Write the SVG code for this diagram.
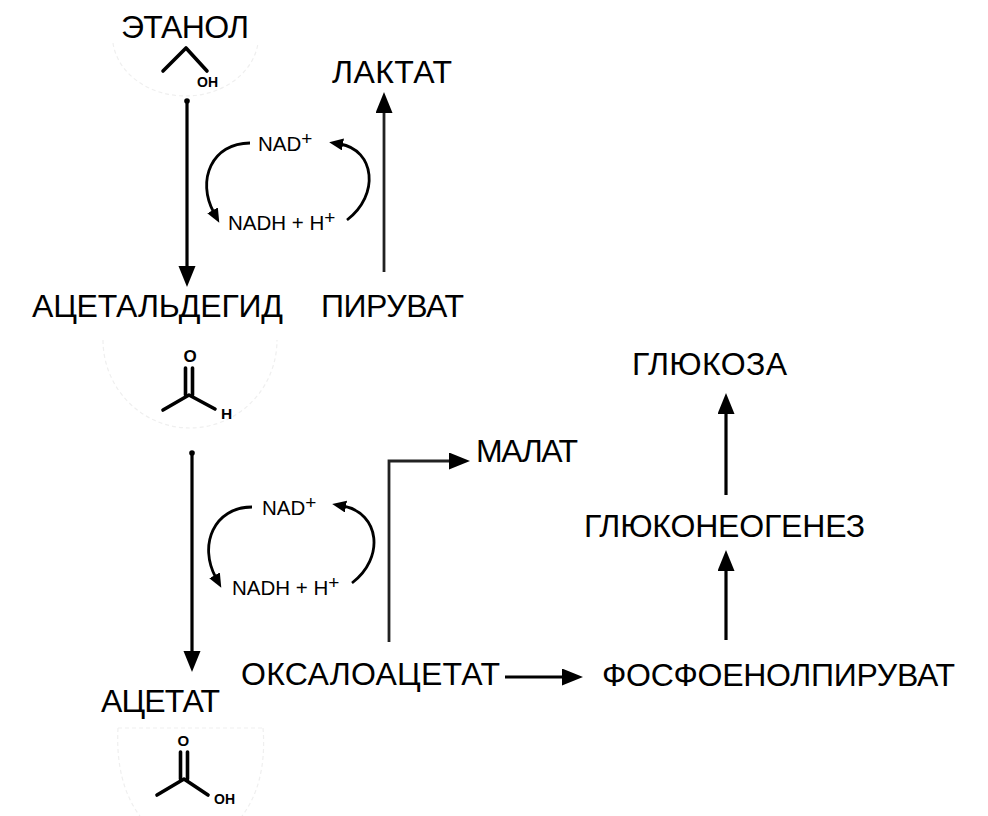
<svg xmlns="http://www.w3.org/2000/svg" width="988" height="816" viewBox="0 0 988 816">
<style>
.lbl{font-family:"Liberation Sans",Arial,sans-serif;font-size:32px;fill:#000}
.co{font-family:"Liberation Sans",Arial,sans-serif;font-size:20.5px;fill:#000}
.sup{font-size:19px}
.atom{font-family:"Liberation Sans",Arial,sans-serif;font-weight:bold;fill:#000}
.bond{stroke:#000;stroke-width:3.6;fill:none;stroke-linecap:round;stroke-linejoin:round}
.faint{stroke:#efefef;stroke-width:1.2;fill:none;stroke-dasharray:4 3}
.arr{stroke:#000;stroke-width:3.2;fill:none}
.arr2{stroke:#222;stroke-width:2.8;fill:none}
.cyc{stroke:#000;stroke-width:2.8;fill:none}
</style>
<defs>
<marker id="big" markerUnits="userSpaceOnUse" markerWidth="22" markerHeight="18" refX="3" refY="8.5" orient="auto">
<path d="M0,0 L21,8.5 L0,17 z" fill="#000"/>
</marker>
<marker id="small" markerUnits="userSpaceOnUse" markerWidth="15" markerHeight="13" refX="3" refY="6" orient="auto">
<path d="M0,0 L14,6 L0,12 z" fill="#000"/>
</marker>
</defs>
<rect width="988" height="816" fill="#fff"/>

<g id="ethanol">
<path class="faint" d="M113,43 A73,60 0 0 0 258,43"/>
<text class="lbl" x="121" y="38" textLength="128">ЭТАНОЛ</text>
<polyline class="bond" points="163,71 186,48 207,71"/>
<text class="atom" x="197" y="86.5" font-size="14">OH</text>
</g>

<g id="lactate">
<text class="lbl" x="332" y="83" textLength="120">ЛАКТАТ</text>
</g>

<g id="acetaldehyde">
<path class="faint" d="M103,340 A87,88 0 0 0 277,340"/>
<text class="lbl" x="32" y="317" textLength="251">АЦЕТАЛЬДЕГИД</text>
<text class="atom" x="183.5" y="362" font-size="17">O</text>
<line class="bond" x1="185.5" y1="368" x2="185.5" y2="395"/>
<line class="bond" x1="192.5" y1="368" x2="192.5" y2="395"/>
<polyline class="bond" points="163,410 189,395 215,409"/>
<text class="atom" x="221" y="418.5" font-size="15.5">H</text>
</g>

<g id="pyruvate">
<text class="lbl" x="321" y="317" textLength="143">ПИРУВАТ</text>
</g>

<g id="acetate">
<path class="faint" d="M118,728 L263,728 M118,728 C116,765 124,795 140,816 M263,728 C266,765 258,795 242,816"/>
<text class="lbl" x="101" y="712" textLength="119">АЦЕТАТ</text>
<text class="atom" x="177.5" y="746" font-size="15">O</text>
<line class="bond" x1="180.5" y1="752" x2="180.5" y2="779"/>
<line class="bond" x1="187.5" y1="752" x2="187.5" y2="779"/>
<polyline class="bond" points="157,795 184,779 208,795"/>
<text class="atom" x="214" y="804" font-size="14">OH</text>
</g>

<g id="malate">
<text class="lbl" x="476" y="462" textLength="102">МАЛАТ</text>
</g>

<g id="oxaloacetate">
<text class="lbl" x="241" y="685" textLength="259">ОКСАЛОАЦЕТАТ</text>
</g>

<g id="pep">
<text class="lbl" x="602" y="686" textLength="353">ФОСФОЕНОЛПИРУВАТ</text>
</g>

<g id="gluconeogenesis">
<text class="lbl" x="584" y="537" textLength="281">ГЛЮКОНЕОГЕНЕЗ</text>
</g>

<g id="glucose">
<text class="lbl" x="632" y="375" textLength="155">ГЛЮКОЗА</text>
</g>

<g id="cofactors1">
<text class="co" x="258" y="151">NAD<tspan class="sup" dy="-6">+</tspan></text>
<text class="co" x="228" y="230">NADH + H<tspan class="sup" dy="-6">+</tspan></text>
</g>

<g id="cofactors2">
<text class="co" x="262" y="515">NAD<tspan class="sup" dy="-6">+</tspan></text>
<text class="co" x="232" y="595">NADH + H<tspan class="sup" dy="-6">+</tspan></text>
</g>

<g id="connectors">
<circle cx="187" cy="101" r="2.8" fill="#000"/>
<line class="arr" x1="187" y1="101" x2="187" y2="269" marker-end="url(#big)"/>
<line class="arr2" x1="384" y1="272" x2="384" y2="110" marker-end="url(#big)"/>
<circle cx="192" cy="453" r="2.8" fill="#000"/>
<line class="arr" x1="192" y1="453" x2="192" y2="654" marker-end="url(#big)"/>
<path class="arr2" d="M389,642 V461 H452" marker-end="url(#big)"/>
<line class="arr" x1="505" y1="677" x2="565" y2="677" marker-end="url(#big)"/>
<line class="arr" x1="726" y1="640" x2="726" y2="568" marker-end="url(#big)"/>
<line class="arr" x1="726" y1="495" x2="726" y2="411" marker-end="url(#big)"/>
<path class="cyc" d="M250,143 C212,143 196,180 214,213" marker-end="url(#small)"/>
<path class="cyc" d="M347,220 C380,195 375,150 340,144" marker-end="url(#small)"/>
<path class="cyc" d="M252,507 C214,507 198,545 216,578" marker-end="url(#small)"/>
<path class="cyc" d="M352,583 C385,558 380,513 343,506" marker-end="url(#small)"/>
</g>
</svg>
